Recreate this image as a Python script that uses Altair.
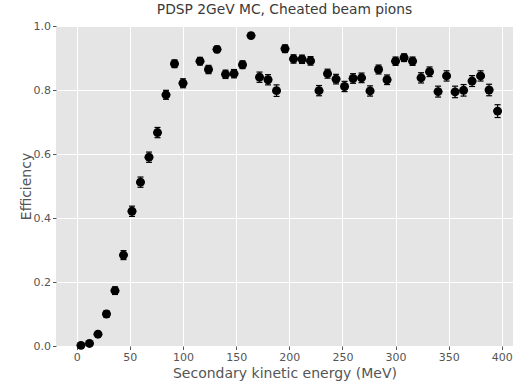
import altair as alt
import pandas as pd

energy = [4, 12, 20, 28, 36, 44, 52, 60, 68, 76, 84, 92, 100, 116, 124, 132, 140, 148,
          156, 164, 172, 180, 188, 196, 204, 212, 220, 228, 236, 244, 252, 260, 268,
          276, 284, 292, 300, 308, 316, 324, 332, 340, 348, 356, 364, 372, 380, 388, 396]
efficiency = [0.002, 0.008, 0.037, 0.100, 0.173, 0.284, 0.421, 0.512, 0.590, 0.667,
              0.785, 0.882, 0.821, 0.890, 0.864, 0.927, 0.849, 0.851, 0.879, 0.970,
              0.840, 0.832, 0.798, 0.929, 0.897, 0.896, 0.891, 0.798, 0.851, 0.834,
              0.811, 0.836, 0.838, 0.797, 0.864, 0.832, 0.890, 0.901, 0.890, 0.838,
              0.857, 0.795, 0.844, 0.794, 0.799, 0.828, 0.844, 0.800, 0.734]
eff_err = [0.002, 0.004, 0.008, 0.010, 0.012, 0.014, 0.016, 0.016, 0.016, 0.016,
           0.014, 0.012, 0.014, 0.012, 0.013, 0.010, 0.013, 0.013, 0.012, 0.008,
           0.016, 0.016, 0.018, 0.012, 0.013, 0.013, 0.013, 0.016, 0.014, 0.015,
           0.016, 0.015, 0.015, 0.016, 0.014, 0.015, 0.013, 0.012, 0.013, 0.016,
           0.015, 0.017, 0.016, 0.018, 0.018, 0.017, 0.016, 0.018, 0.020]
bin_half_width = 4

df = pd.DataFrame({"x": energy, "eff": efficiency, "err": eff_err})
df["lo"] = df["eff"] - df["err"]
df["hi"] = df["eff"] + df["err"]
df["xlo"] = df["x"] - bin_half_width
df["xhi"] = df["x"] + bin_half_width

xs = alt.Scale(domain=[-19.5, 410.5], nice=False, zero=False)
ys = alt.Scale(domain=[0, 1], nice=False, zero=False)

x_axis = alt.Axis(values=[0, 50, 100, 150, 200, 250, 300, 350, 400], title="Secondary kinetic energy (MeV)",
                  titlePadding=4)
y_axis = alt.Axis(values=[0, 0.2, 0.4, 0.6, 0.8, 1.0], format=".1f", title="Efficiency",
                  titleX=-23, titleY=160, titleAngle=-90, titleBaseline="bottom", titleAlign="center")

base = alt.Chart(df)

points = base.mark_circle(size=80, color="black", opacity=1).encode(
    x=alt.X("x:Q", scale=xs, axis=x_axis),
    y=alt.Y("eff:Q", scale=ys, axis=y_axis),
)
yerr = base.mark_rule(color="black", strokeWidth=1.2).encode(
    x=alt.X("x:Q", scale=xs), y=alt.Y("lo:Q", scale=ys), y2="hi:Q"
)
xerr = base.mark_rule(color="black", strokeWidth=1.2).encode(
    x=alt.X("xlo:Q", scale=xs), x2="xhi:Q", y=alt.Y("eff:Q", scale=ys)
)
cap_hi = base.mark_tick(orient="horizontal", size=6, thickness=1.2, color="black", opacity=1).encode(
    x=alt.X("x:Q", scale=xs), y=alt.Y("hi:Q", scale=ys)
)
cap_lo = base.mark_tick(orient="horizontal", size=6, thickness=1.2, color="black", opacity=1).encode(
    x=alt.X("x:Q", scale=xs), y=alt.Y("lo:Q", scale=ys)
)

chart = alt.layer(yerr, xerr, cap_hi, cap_lo, points).properties(
    width=457,
    height=320,
    background="white",
    autosize=alt.AutoSizeParams(type="none"),
    padding={"left": 56, "top": 26, "right": 2, "bottom": 38},
    title=alt.TitleParams("PDSP 2GeV MC, Cheated beam pions", fontSize=13.8, fontWeight="normal",
                          color="#3a3a3a", font="DejaVu Sans", offset=3, anchor="middle"),
).configure_view(
    fill="#E5E5E5", stroke=None
).configure_axis(
    domain=False,
    grid=True,
    gridColor="white",
    gridWidth=1,
    tickColor="#555555",
    tickSize=3.5,
    labelColor="#555555",
    labelFont="DejaVu Sans",
    labelFontSize=11,
    labelPadding=2,
    titleColor="#555555",
    titleFont="DejaVu Sans",
    titleFontSize=14,
    titleFontWeight="normal",
)

chart.save("out.html", embed_options={"renderer": "svg", "actions": False})
